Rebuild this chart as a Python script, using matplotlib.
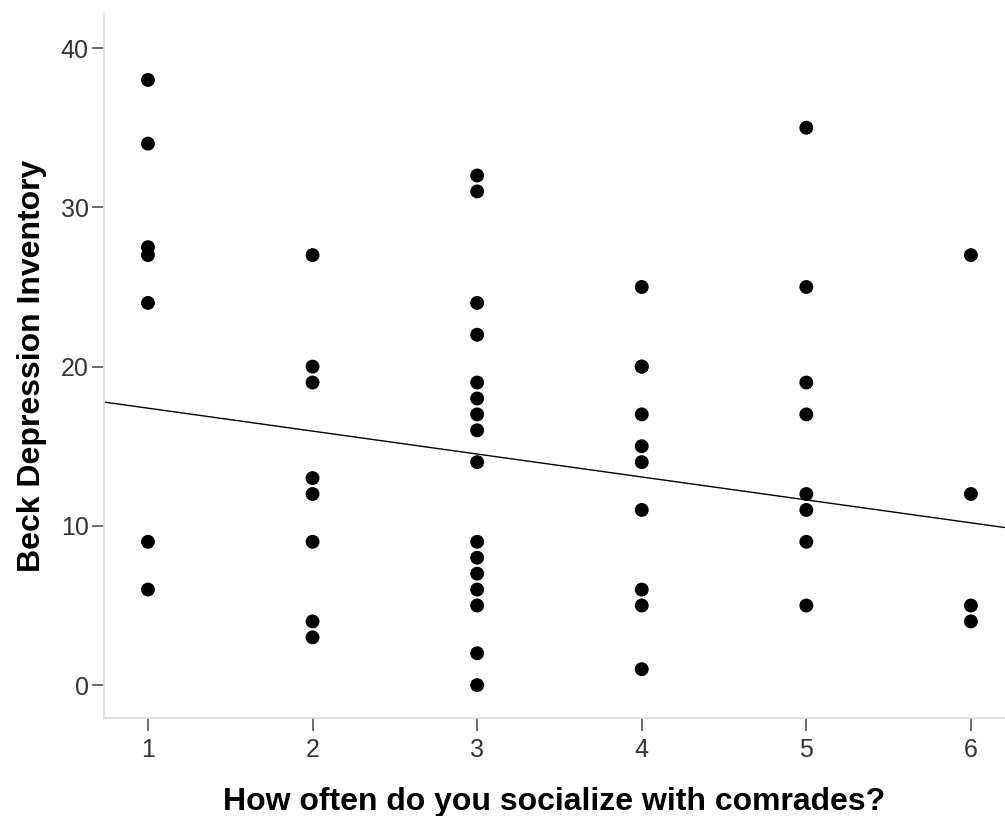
import numpy as np
import matplotlib.pyplot as plt

plt.rcParams['font.family'] = ['Liberation Sans', 'DejaVu Sans']

# socialize frequency (x) and Beck Depression Inventory score (y)
x1 = [1, 1, 1, 1, 1, 1, 1]
y1 = [38, 34, 27.5, 27, 24, 9, 6]
x2 = [2, 2, 2, 2, 2, 2, 2, 2]
y2 = [27, 20, 19, 13, 12, 9, 4, 3]
x3 = [3] * 16
y3 = [32, 31, 24, 22, 19, 18, 17, 16, 14, 9, 8, 7, 6, 5, 2, 0]
x4 = [4] * 10
y4 = [25, 20, 20, 17, 15, 14, 11, 6, 5, 1]
x5 = [5] * 8
y5 = [35, 25, 19, 17, 12, 11, 9, 5]
x6 = [6] * 4
y6 = [27, 12, 5, 4]

# fit line as shown in the chart
fit_intercept = 18.83
fit_slope = -1.44

x = np.array(x1 + x2 + x3 + x4 + x5 + x6, dtype=float)
y = np.array(y1 + y2 + y3 + y4 + y5 + y6, dtype=float)

fig = plt.figure(figsize=(10.05, 8.16), dpi=100)
ax = fig.add_axes([0.1035, 0.120, 0.8965, 0.864])

ax.scatter(x, y, s=100, color='black', edgecolors='none', zorder=3)

xmin, xmax = 0.733, 6.207
xl = np.array([xmin, xmax])
ax.plot(xl, fit_intercept + fit_slope * xl, color='black', lw=1.0, zorder=2)

ax.set_xlim(xmin, xmax)
ax.set_ylim(-2.07, 42.2)
ax.set_xticks([1, 2, 3, 4, 5, 6])
ax.set_yticks([0, 10, 20, 30, 40])

for s in ['top', 'right']:
    ax.spines[s].set_visible(False)
for s in ['left', 'bottom']:
    ax.spines[s].set_color('#d9d9d9')
    ax.spines[s].set_linewidth(1.2)

ax.tick_params(axis='both', colors='#444444', labelcolor='#333333',
               length=9, width=1.1, labelsize=18, direction='out')
ax.tick_params(axis='x', pad=5)
ax.tick_params(axis='y', pad=2)

ax.set_xlabel('How often do you socialize with comrades?', fontsize=23,
              fontweight='bold', labelpad=18)
ax.set_ylabel('Beck Depression Inventory', fontsize=23, fontweight='bold',
              labelpad=10)

fig.savefig('out.png', dpi=100)
